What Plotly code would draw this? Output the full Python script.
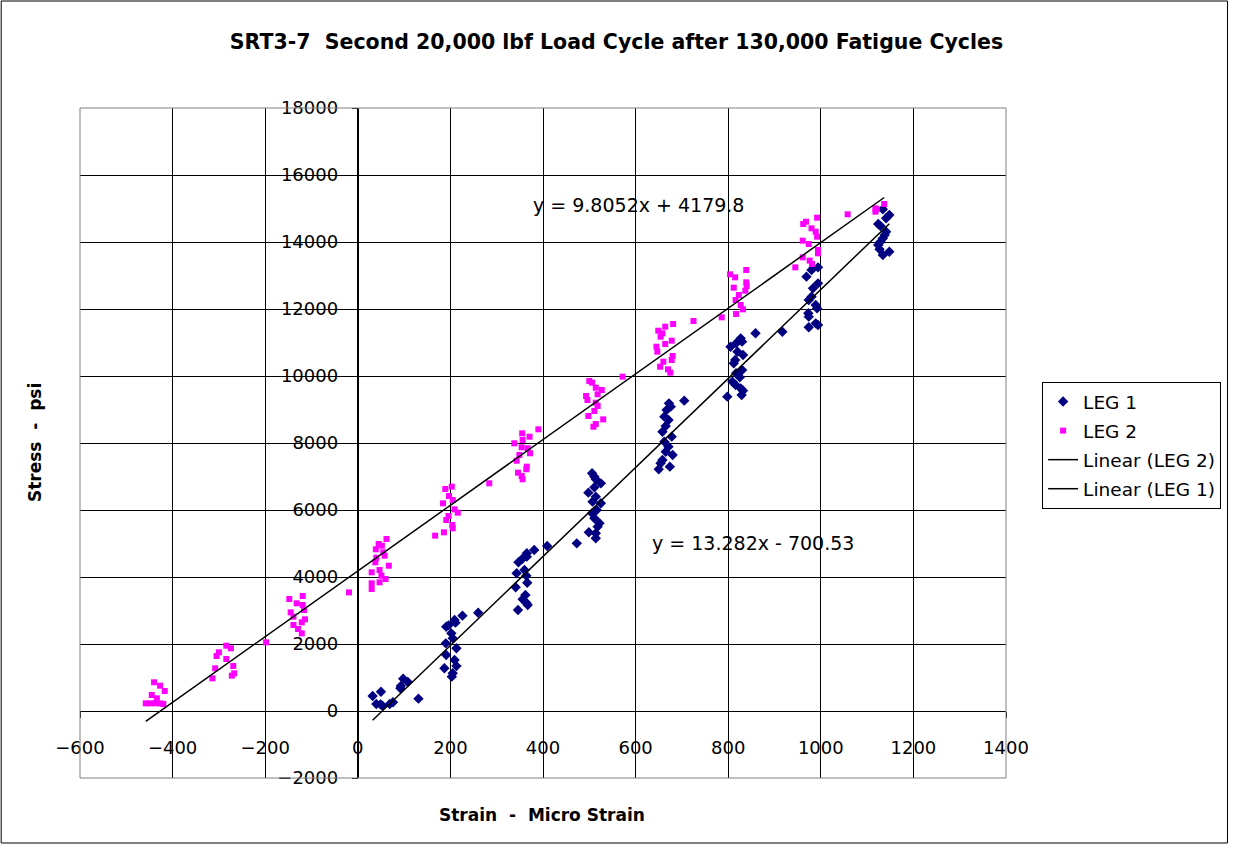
"""SRT3-7 stress/strain scatter with linear trendlines (Excel-style)."""

import numpy as np
import plotly.graph_objects as go

# ── data ──
leg1_strain = [
    32, 50, 40, 49, 53, 69, 76, 131, 93, 98, 108, 92,
    191, 196, 209, 211, 226, 260, 202, 205, 190, 213, 191, 209, 213, 187, 205, 203,
    347, 355, 365, 365, 381, 409, 473, 343, 360, 364, 366, 341, 362, 356, 364, 346, 367,
    506, 511, 514, 498, 511, 525, 514, 507, 525, 516, 506, 511, 522, 518, 514, 514, 499,
    672, 676, 667, 662, 671, 665, 658, 678, 662, 671, 665, 680, 658, 654, 674, 705, 650,
    805, 817, 827, 830, 820, 832, 815, 812, 830, 817, 825, 809, 816, 827, 832, 829, 798, 859, 917,
    980, 994, 969, 983, 994, 980, 974, 989, 992, 973, 974, 989, 974, 994,
    1134, 1141, 1148, 1124, 1129, 1141, 1138, 1134, 1129, 1124, 1127, 1134, 1148,
]
leg1_stress = [
    448, 576, 209, 199, 159, 209, 259, 368, 746, 965, 866, 677,
    2517, 2557, 2716, 2637, 2846, 2935, 2318, 2169, 2020, 1871, 1672, 1522, 1343, 1274, 1125, 1025,
    4439, 4537, 4707, 4607, 4806, 4925, 5005, 4110, 4209, 4039, 3830, 3692, 3463, 3334, 3234, 3015, 3164,
    7095, 6995, 6916, 6518, 6677, 6796, 6399, 6249, 6200, 6000, 5901, 5752, 5603, 5503, 5304, 5155, 5334,
    9184, 9085, 8985, 8786, 8687, 8507, 8338, 8189, 8040, 7891, 7741, 7642, 7492, 7394, 7294, 9264, 7215,
    10875, 10975, 11124, 11025, 10726, 10627, 10478, 10378, 10179, 10080, 9961, 9831, 9731, 9632, 9562,
    9433, 9383, 11274, 11323,
    13164, 13244, 12965, 12617, 12766, 12368, 12269, 12119, 12020, 11871, 11771, 11572, 11453, 11522,
    14976, 14707, 14806, 14537, 14478, 14308, 14209, 14109, 14010, 13910, 13781, 13612, 13711,
]

leg2_strain = [
    -440, -427, -417, -445, -434, -458, -448, -437, -427, -420,
    -284, -274, -300, -305, -284, -269, -308, -267, -272, -314,
    -198,
    -148, -132, -119, -119, -145, -116, -139, -114, -121, -139, -129, -121,
    -19,
    62, 45, 52, 39, 55, 40, 58, 38, 67, 30, 47, 51, 60, 47, 30, 30,
    189, 203, 197, 184, 205, 209, 216, 196, 191, 204, 205, 186, 167,
    284,
    355, 390, 371, 338, 356, 354, 367, 372, 349, 343, 365, 364, 346, 354, 356,
    500, 506, 493, 514, 527, 518, 496, 514, 518, 511, 498, 530, 514, 509,
    572,
    649, 658, 664, 681, 654, 664, 678, 645, 647, 680, 678, 660, 653, 670, 675,
    725, 786,
    804, 815, 839, 812, 839, 840, 823, 837, 816, 827, 832, 817,
    962, 968, 980, 992, 989, 992, 961, 974, 994, 994, 961, 976, 981, 945,
    1058,
    1118, 1137, 1118, 1121,
]
leg2_stress = [
    857, 756, 597, 478, 378, 229, 229, 229, 229, 209,
    1949, 1871, 1752, 1642, 1552, 1343, 1274, 1125, 1055, 975,
    2050,
    3343, 3214, 3433, 3164, 2945, 3015, 2816, 2737, 2647, 2567, 2448, 2318,
    3540,
    5134, 4985, 4935, 4827, 4737, 4576, 4636, 4439, 4337, 4140, 4209, 4039, 3940, 3841, 3811, 3641,
    6627, 6696, 6418, 6199, 6299, 6020, 5920, 5821, 5701, 5552, 5453, 5333, 5234,
    6797,
    8289, 8408, 8189, 7991, 8090, 7872, 7842, 7693, 7642, 7472, 7294, 7215, 7114, 7015, 6916,
    9851, 9801, 9403, 9651, 9582, 9453, 9284, 9204, 9104, 8955, 8806, 8706, 8567, 8487,
    9980,
    11352, 11274, 11472, 11552, 11173, 10955, 11054, 10875, 10726, 10597, 10478, 10428, 10278, 10199, 10099,
    11642, 11752,
    13035, 12945, 13164, 12636, 12796, 12687, 12418, 12547, 12269, 12119, 11990, 11851,
    14537, 14607, 14408, 14726, 14308, 14159, 14040, 13940, 13761, 13662, 13543, 13443, 13343, 13244,
    14827,
    15006, 15134, 14905, 14976,
]

# trendline coefficients as printed on the chart
leg1_slope, leg1_intercept = 13.282, -700.53
leg2_slope, leg2_intercept = 9.8052, 4179.8

FONT = "DejaVu Sans, Arial, sans-serif"

fig = go.Figure()

fig.add_trace(go.Scatter(
    x=leg1_strain, y=leg1_stress, mode="markers", name="LEG 1", legendgroup="a",
    marker=dict(symbol="diamond", size=8, color="#000080"),
))
fig.add_trace(go.Scatter(
    x=leg2_strain, y=leg2_stress, mode="markers", name="LEG 2", legendgroup="b",
    marker=dict(symbol="square", size=6, color="#FF00FF"),
))

# ── linear trendlines over each series' strain range ──
x2 = np.array([min(leg2_strain), max(leg2_strain)])
fig.add_trace(go.Scatter(
    x=x2, y=leg2_slope * x2 + leg2_intercept, mode="lines", legendgroup="c",
    name="Linear (LEG 2)", line=dict(color="black", width=1.5),
))
x1 = np.array([min(leg1_strain), max(leg1_strain)])
fig.add_trace(go.Scatter(
    x=x1, y=leg1_slope * x1 + leg1_intercept, mode="lines", legendgroup="d",
    name="Linear (LEG 1)", line=dict(color="black", width=1.5),
))

axis_common = dict(
    showgrid=True, gridcolor="black", gridwidth=1,
    zeroline=False, showline=True, linecolor="black", linewidth=1,
    ticks="outside", ticklen=6, tickcolor="black", tickformat="d",
    tickfont=dict(family=FONT, size=18, color="black"),
    anchor="free",
)

fig.update_layout(
    width=1233,
    height=845,
    margin=dict(l=80, r=225, t=108, b=67),
    paper_bgcolor="white",
    plot_bgcolor="white",
    font=dict(family=FONT, color="black"),
    title=dict(
        text="<b>SRT3-7  Second 20,000 lbf Load Cycle after 130,000 Fatigue Cycles</b>",
        x=0.5, xanchor="center", y=0.95, yanchor="middle",
        font=dict(family=FONT, size=20.5, color="black"),
    ),
    xaxis=dict(range=[-600, 1400], dtick=200, position=0.1,
               ticklabelstandoff=14, **axis_common),
    yaxis=dict(range=[-2000, 18000], dtick=2000, position=0.3,
               ticklabelstandoff=10, **axis_common),
    showlegend=True,
    legend=dict(
        x=1.039, y=0.591, xanchor="left", yanchor="top",
        bordercolor="black", borderwidth=1, bgcolor="white",
        font=dict(family=FONT, size=18.5, color="black"),
        tracegroupgap=2,
    ),
    shapes=[
        # plot area border
        dict(type="rect", xref="paper", yref="paper", x0=0, x1=1, y0=0, y1=1,
             line=dict(color="#808080", width=1)),
        # chart border
        dict(type="rect", xref="paper", yref="paper",
             x0=-0.0851, x1=1.2392, y0=-0.097, y1=1.1597,
             line=dict(color="black", width=1)),
    ],
    annotations=[
        dict(text="<b>Stress\u00a0\u00a0-\u00a0\u00a0psi</b>", xref="paper", yref="paper",
             x=-0.0485, y=0.5, xanchor="center", yanchor="middle",
             textangle=-90, showarrow=False,
             font=dict(family=FONT, size=17, color="black")),
        dict(text="<b>Strain\u00a0\u00a0-\u00a0\u00a0Micro Strain</b>", xref="paper", yref="paper",
             x=0.499, y=-0.0552, xanchor="center", yanchor="middle", showarrow=False,
             font=dict(family=FONT, size=17, color="black")),
        dict(text="y = 9.8052x + 4179.8", x=606, y=15104, showarrow=False,
             font=dict(family=FONT, size=19, color="black")),
        dict(text="y = 13.282x - 700.53", x=853, y=5015, showarrow=False,
             font=dict(family=FONT, size=19, color="black")),
    ],
)

fig.write_html(
    "out.html",
    config={"displayModeBar": False},
    post_script="document.body.style.margin='0';",
)
